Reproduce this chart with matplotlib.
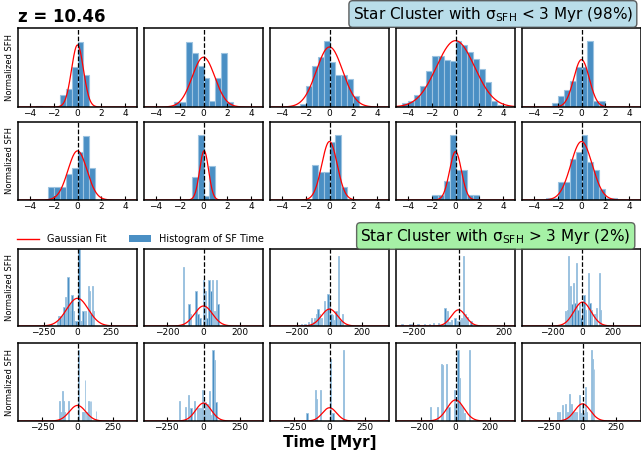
import numpy as np
import matplotlib.pyplot as plt
from matplotlib.lines import Line2D
from matplotlib.patches import Patch

# clusters with narrow SFH (bin width 0.5 Myr): first bin edge and bin heights
top_bin = 0.5
top_start = [-3.5, -2.5, -2.5, -4.5, -2.5,
             -2.5, -1.0, -1.5, -2.0, -3.0]
top_heights = [
    [0.013, 0, 0, 0, 0.155, 0.23, 0.51, 0.82, 0.40],
    [0.06, 0.06, 0.82, 0.68, 0.52, 0.37, 0.08, 0.37, 0.68, 0.06],
    [0.035, 0.26, 0.515, 0.63, 0.83, 0.57, 0.41, 0.41, 0.35, 0.14],
    [0.05, 0.08, 0.15, 0.27, 0.46, 0.64, 0.64, 0.60, 0.58, 0.83, 0.78, 0.70, 0.61, 0.48, 0.32, 0.08, 0.03],
    [0.05, 0.14, 0.22, 0.33, 0.50, 0.50, 0.84, 0.07, 0.07],
    [0.165, 0.165, 0.165, 0.33, 0.41, 0.62, 0.82, 0.41],
    [0.29, 0.83, 0.05, 0.43],
    [0.455, 0.36, 0.36, 0.74, 0.83, 0.17],
    [0.06, 0.06, 0.25, 0.83, 0.38, 0.38, 0.06, 0.06],
    [0.02, 0.02, 0.23, 0.23, 0.53, 0.62, 0.83, 0.49, 0.38, 0.14, 0.02, 0.02],
]
# gaussian fits: amplitude, mean, sigma
top_fit = [
    (0.785, 0.0, 0.5), (0.63, 0.0, 0.95), (0.76, 0.0, 1.1), (0.84, 0.0, 1.6), (0.60, 0.0, 0.65),
    (0.63, 0.0, 0.8), (0.63, 0.05, 0.38), (0.75, 0.0, 0.65), (0.62, 0.0, 0.5), (0.75, 0.0, 0.9),
]

# clusters with broad SFH: bar centres [Myr], heights, bar width
bot_width = [10, 8, 8, 6, 8,
             6, 8, 8, 7, 7]
bot_centers = [
    [-190, -150, -140, -130, -120, -110, -100, -90, -80, -70, -60, -50, -40, -30, -20, -10, 0, 10, 20, 30, 40, 50, 60, 80, 90, 100, 110, 120],
    [-110, -80, -70, -40, -30, -20, 0, 10, 20, 30, 40, 50, 60, 70, 80],
    [-170, -150, -130, -110, -100, -90, -80, -70, -60, -50, -30, -20, -10, 0, 10, 20, 30, 40, 55, 65, 80],
    [-250, -215, -205, -180, -150, -130, -110, -90, -60, -50, -40, -30, -15, -5, 5, 14, 22, 30, 40, 55],
    [-110, -100, -90, -80, -70, -60, -50, -40, -30, -20, -10, 0, 10, 20, 40, 50, 60, 80, 95, 110, 118],
    [-125, -118, -104, -97, -90, -62, 8, 38, 45, 53, 60, 68, 79, 88, 95, 130],
    [-162, -122, -101, -85, -61, -43, -30, -15, -5, 5, 15, 25, 40, 50, 65, 74, 85],
    [-160, -100, -92, -66, 5, 12, 25, 102],
    [-147, -105, -82, -74, -50, -38, -5, 2, 15, 22, 28, 42, 50, 80],
    [-187, -170, -150, -125, -110, -95, -85, -75, -60, -45, -20, -12, 0, 10, 25, 30, 65, 75, 85],
]
bot_heights = [
    [0.02, 0.06, 0.13, 0.13, 0.10, 0.13, 0.25, 0.38, 0.28, 0.64, 0.30, 0.20, 0.40, 0.20, 0.07, 0.07, 0.07, 1.0, 0.07, 0.07, 0.20, 0.07, 0.20, 0.52, 0.45, 0.15, 0.52, 0.20],
    [0.76, 0.29, 0.15, 0.45, 0.15, 0.10, 0.60, 0.45, 0.10, 0.60, 0.45, 0.60, 0.20, 0.60, 0.28],
    [0.03, 0.03, 0.05, 0.10, 0.05, 0.10, 0.16, 0.22, 0.16, 0.10, 0.32, 0.20, 0.42, 0.34, 0.16, 0.14, 0.08, 0.20, 0.91, 0.08, 0.15],
    [0.03, 0.03, 0.03, 0.02, 0.03, 0.03, 0.04, 0.04, 0.23, 0.19, 0.05, 0.08, 0.10, 0.06, 0.08, 0.10, 0.91, 0.15, 0.12, 0.06],
    [0.20, 0.21, 0.91, 0.52, 0.28, 0.56, 0.30, 0.82, 0.21, 0.28, 0.10, 0.28, 0.40, 0.21, 0.69, 0.30, 0.21, 0.15, 0.23, 0.69, 0.21],
    [0.26, 0.12, 0.39, 0.26, 0.12, 0.26, 0.91, 0.12, 0.12, 0.52, 0.12, 0.12, 0.26, 0.26, 0.26, 0.13],
    [0.26, 0.18, 0.33, 0.17, 0.26, 0.17, 0.17, 0.17, 0.40, 0.08, 0.25, 0.22, 0.38, 0.08, 0.91, 0.78, 0.25],
    [0.10, 0.40, 0.28, 0.40, 0.80, 0.10, 0.10, 0.91],
    [0.18, 0.18, 0.73, 0.72, 0.73, 0.18, 0.40, 0.20, 0.91, 0.55, 0.20, 0.18, 0.10, 0.91],
    [0.12, 0.12, 0.20, 0.22, 0.12, 0.34, 0.22, 0.12, 0.12, 0.12, 0.33, 0.10, 0.22, 0.10, 0.44, 0.12, 0.91, 0.80, 0.67],
]
bot_fit = [
    (0.36, 0.0, 80), (0.26, 0.0, 49), (0.22, 0.0, 49), (0.21, 0.0, 32), (0.31, 0.0, 57),
    (0.20, 0.0, 57), (0.23, 0.0, 53), (0.17, 0.0, 50), (0.27, 0.0, 49), (0.22, 0.0, 58),
]
bot_xlim = [(-440, 440), (-325, 325), (-364, 364), (-277, 250), (-400, 387),
            (-417, 417), (-405, 405), (-422, 422), (-345, 345), (-448, 433)]
bot_ticks = [[-250, 0, 250], [-200, 0, 200], [-200, 0, 200], [-200, 0, 200], [-200, 0, 200],
             [-250, 0, 250], [-250, 0, 250], [-250, 0, 250], [-200, 0, 200], [-250, 0, 250]]

W, H = 641, 458
fig = plt.figure(figsize=(W / 100, H / 100), dpi=100)

col_left = [18, 144, 270, 396, 522]
col_w = 119
rows = [(28, 107), (122, 200), (249, 326), (343, 421)]
bar_color = '#4a8fc4'
edge_color = '#9cc3e0'


def make_ax(r, c):
    top, bot = rows[r]
    ax = fig.add_axes([col_left[c] / W, 1 - bot / H, col_w / W, (bot - top) / H])
    ax.set_yticks([])
    ax.tick_params(axis='x', direction='in', length=3, width=0.8, labelsize=6.5, pad=1.5)
    for s in ax.spines.values():
        s.set_linewidth(1.1)
    if c == 0:
        ax.set_ylabel('Normalized SFH', fontsize=6, labelpad=3)
    return ax


def gauss(x, a, m, s):
    return a * np.exp(-0.5 * ((x - m) / s) ** 2)


for k in range(10):
    r, c = divmod(k, 5)
    ax = make_ax(r, c)
    h = np.array(top_heights[k])
    edges = top_start[k] + top_bin * np.arange(len(h))
    ax.bar(edges, h, width=top_bin, align='edge', color=bar_color,
           edgecolor=edge_color, linewidth=0.8)
    x = np.linspace(-5, 5, 400)
    ax.plot(x, gauss(x, *top_fit[k]), color='red', lw=0.9)
    ax.axvline(0, color='black', ls='--', lw=0.9)
    ax.set_xlim(-5, 5)
    ax.set_ylim(0, 1)
    ax.set_xticks([-4, -2, 0, 2, 4])

for k in range(10):
    r, c = divmod(k, 5)
    ax = make_ax(r + 2, c)
    ax.bar(bot_centers[k], bot_heights[k], width=bot_width[k], color=bar_color,
           edgecolor=edge_color, linewidth=0.6)
    lo, hi = bot_xlim[k]
    x = np.linspace(lo, hi, 400)
    ax.plot(x, gauss(x, *bot_fit[k]), color='red', lw=0.9)
    ax.axvline(0, color='black', ls='--', lw=0.9)
    ax.set_xlim(lo, hi)
    ax.set_ylim(0, 1)
    ax.set_xticks(bot_ticks[k])

fig.text(18 / W, 1 - 17 / H, 'z = 10.46', fontsize=12, fontweight='bold', va='center', ha='left')
fig.text(633 / W, 1 - 14 / H, r'Star Cluster with $\mathregular{\sigma_{SFH}}$ < 3 Myr (98%)',
         fontsize=11, ha='right', va='center',
         bbox=dict(boxstyle='round,pad=0.25', fc='lightblue', ec='#444444', alpha=0.85))
fig.text(631 / W, 1 - 236 / H, r'Star Cluster with $\mathregular{\sigma_{SFH}}$ > 3 Myr (2%)',
         fontsize=11, ha='right', va='center',
         bbox=dict(boxstyle='round,pad=0.25', fc='lightgreen', ec='#444444', alpha=0.8))

handles = [Line2D([], [], color='red', lw=1),
           Patch(facecolor=bar_color)]
fig.legend(handles, ['Gaussian Fit', 'Histogram of SF Time'], ncol=2, frameon=False,
           fontsize=7, loc='center left', bbox_to_anchor=(8 / W, 1 - 239 / H),
           handlelength=2.3, columnspacing=2.3)

fig.text(330 / W, 1 - 442 / H, 'Time [Myr]', fontsize=11, fontweight='bold', ha='center', va='center')

fig.savefig('out.png', dpi=100)
